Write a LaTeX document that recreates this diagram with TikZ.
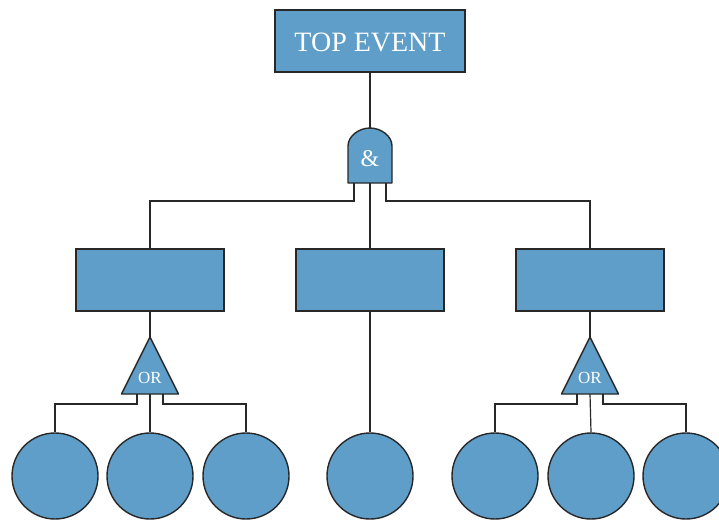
\documentclass[tikz,border=0pt]{standalone}
\usepackage{fontspec}
\setmainfont{Liberation Serif}
\definecolor{fillblue}{RGB}{94,158,201}
\definecolor{edge}{RGB}{40,40,40}
\begin{document}
\begin{tikzpicture}[x=1pt,y=-1pt,
  box/.style={draw=edge,fill=fillblue,line width=1.4pt,inner sep=0pt},
  event/.style={draw=edge,fill=fillblue,line width=1.4pt,circle,minimum size=86pt,inner sep=0pt},
  gatebox/.style={inner sep=0pt,outer sep=0pt},
  gateshape/.style={draw=edge,fill=fillblue,line width=1.4pt,line join=round},
  wire/.style={draw=edge,line width=1.2pt},
  lbl/.style={text=white,inner sep=0pt}]
\useasboundingbox (0,0) rectangle (719,520);
% top event
\node[box,minimum width=190pt,minimum height=62pt] (top) at (370,41) {};
\node[lbl,font=\fontsize{28}{30}\selectfont] (toptxt) at (370,42) {TOP EVENT};
% AND gate
\node[gatebox,minimum width=44pt,minimum height=55pt] (andg) at (370,155.5) {};
\draw[gateshape] (348,183) -- (348,146) .. controls (348,136) and (359,128) .. (370,128)
  .. controls (381,128) and (392,136) .. (392,146) -- (392,183) -- cycle;
\node[lbl,font=\fontsize{24}{26}\selectfont] (andtxt) at (370,159) {\&};
% intermediate boxes
\node[box,minimum width=148pt,minimum height=62pt] (b1) at (150,280) {};
\node[box,minimum width=148pt,minimum height=62pt] (b2) at (370,280) {};
\node[box,minimum width=148pt,minimum height=62pt] (b3) at (590,280) {};
% OR gates
\node[gatebox,minimum width=57pt,minimum height=57pt] (or1) at (150,365.5) {};
\draw[gateshape] (150,337) -- (178.5,394) -- (121.5,394) -- cycle;
\node[lbl,font=\fontsize{17}{19}\selectfont] (or1txt) at (150,378) {OR};
\node[gatebox,minimum width=57pt,minimum height=57pt] (or2) at (590,365.5) {};
\draw[gateshape] (590,337) -- (618.5,394) -- (561.5,394) -- cycle;
\node[lbl,font=\fontsize{17}{19}\selectfont] (or2txt) at (590,378) {OR};
% basic events
\node[event] (e1) at (55,476) {};
\node[event] (e2) at (150,476) {};
\node[event] (e3) at (246,476) {};
\node[event] (e4) at (370,476) {};
\node[event] (e5) at (495,476) {};
\node[event] (e6) at (591,476) {};
\node[event] (e7) at (686,476) {};
% gate legs
\coordinate (aL) at (354,183);
\coordinate (aR) at (386,183);
\coordinate (o1L) at (137,394);
\coordinate (o1R) at (163,394);
\coordinate (o2L) at (577,394);
\coordinate (o2R) at (603,394);
% connectors
\draw[wire] (top.south) -- (andg.north);
\draw[wire] (aL) -- ++(0,18) -| (b1.north);
\draw[wire] (andg.south) -- (b2.north);
\draw[wire] (aR) -- ++(0,18) -| (b3.north);
\draw[wire] (b1.south) -- (or1.north);
\draw[wire] (b3.south) -- (or2.north);
\draw[wire] (b2.south) -- (e4.north);
\draw[wire] (o1L) -- ++(0,10) -| (e1.north);
\draw[wire] (or1.south) -- (e2.north);
\draw[wire] (o1R) -- ++(0,10) -| (e3.north);
\draw[wire] (o2L) -- ++(0,10) -| (e5.north);
\draw[wire] (or2.south) -- (e6.north);
\draw[wire] (o2R) -- ++(0,10) -| (e7.north);
\end{tikzpicture}
\end{document}
